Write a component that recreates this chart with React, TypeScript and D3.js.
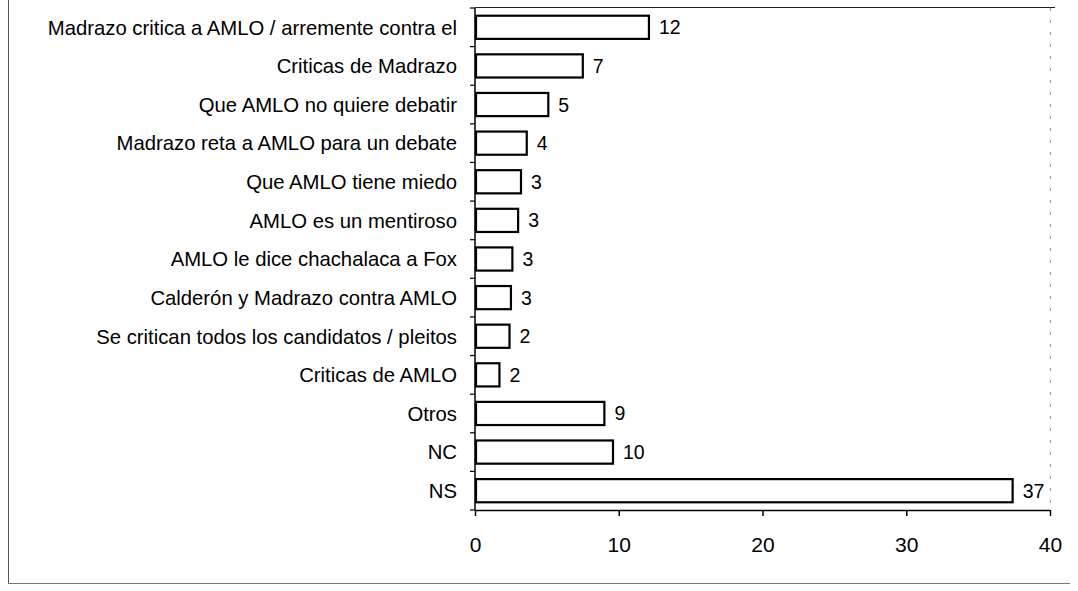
import { useEffect, useRef } from 'react';
import * as d3 from 'd3';

// categories top to bottom
const categories = [
  'Madrazo critica a AMLO / arremente contra el',
  'Criticas de Madrazo',
  'Que AMLO no quiere debatir',
  'Madrazo reta a AMLO para un debate',
  'Que AMLO tiene miedo',
  'AMLO es un mentiroso',
  'AMLO le dice chachalaca a Fox',
  'Calderón y Madrazo contra AMLO',
  'Se critican todos los candidatos / pleitos',
  'Criticas de AMLO',
  'Otros',
  'NC',
  'NS',
];

// bar lengths as drawn (unrounded)
const values = [12.1, 7.5, 5.1, 3.6, 3.2, 3.0, 2.6, 2.5, 2.4, 1.7, 9.0, 9.6, 37.4];

// printed labels
const valueLabels = ['12', '7', '5', '4', '3', '3', '3', '3', '2', '2', '9', '10', '37'];

const xTicks = [0, 10, 20, 30, 40];

const W = 1078;
const H = 591;

const App = () => {
  const svgRef = useRef<SVGSVGElement>(null);

  useEffect(() => {
    if (!svgRef.current) return;
    const svg = d3.select(svgRef.current);
    svg.selectAll('*').remove();

    const font = '"Liberation Sans", Arial, Helvetica, sans-serif';
    const left = 475;
    const right = 1050;
    const top = 8;
    const bottom = 510;

    // outer frame
    svg.append('line')
      .attr('x1', 8.5).attr('y1', 0).attr('x2', 8.5).attr('y2', 583)
      .attr('stroke', '#555').attr('stroke-width', 1);
    svg.append('line')
      .attr('x1', 8).attr('y1', 583.5).attr('x2', 1070).attr('y2', 583.5)
      .attr('stroke', '#777').attr('stroke-width', 1);

    // plot frame
    svg.append('line')
      .attr('x1', left).attr('y1', top - 0.5).attr('x2', right + 5).attr('y2', top - 0.5)
      .attr('stroke', '#222').attr('stroke-width', 1);
    svg.append('line')
      .attr('x1', right + 0.5).attr('y1', top).attr('x2', right + 0.5).attr('y2', bottom)
      .attr('stroke', '#999').attr('stroke-width', 1).attr('stroke-dasharray', '3,9');

    const x = d3.scaleLinear().domain([0, 40]).range([left, right]);
    const y = d3.scaleBand<string>()
      .domain(categories)
      .range([top, bottom])
      .paddingInner(0.4)
      .paddingOuter(0.2);

    // x axis
    const xAxis = svg.append('g')
      .attr('transform', `translate(0,${bottom})`)
      .call(d3.axisBottom(x).tickValues(xTicks).tickSize(6).tickPadding(21).tickSizeOuter(0));
    xAxis.select('.domain').attr('stroke', '#000').attr('stroke-width', 1.5);
    xAxis.selectAll('.tick line').attr('stroke', '#000').attr('stroke-width', 1.5);
    xAxis.selectAll('.tick text')
      .attr('font-family', font)
      .attr('font-size', 21)
      .attr('fill', '#000');

    // y axis line
    svg.append('line')
      .attr('x1', left).attr('y1', top).attr('x2', left).attr('y2', bottom)
      .attr('stroke', '#000').attr('stroke-width', 1.5);

    // y ticks between categories
    const step = y.step();
    const boundaries = d3.range(categories.length + 1).map(i => top + i * step);
    svg.selectAll('.ytick')
      .data(boundaries)
      .join('line')
      .attr('class', 'ytick')
      .attr('x1', left - 5).attr('x2', left)
      .attr('y1', d => d).attr('y2', d => d)
      .attr('stroke', '#000').attr('stroke-width', 1.2);

    // category labels
    svg.selectAll('.cat')
      .data(categories)
      .join('text')
      .attr('class', 'cat')
      .attr('x', left - 18)
      .attr('y', d => (y(d) || 0) + y.bandwidth() / 2)
      .attr('dy', '0.36em')
      .attr('text-anchor', 'end')
      .attr('font-family', font)
      .attr('font-size', 20.3)
      .attr('fill', '#000')
      .text(d => d);

    // bars
    svg.selectAll('.bar')
      .data(values)
      .join('rect')
      .attr('class', 'bar')
      .attr('x', x(0) + 1)
      .attr('y', (_, i) => y(categories[i]) || 0)
      .attr('width', d => x(d) - x(0) - 1)
      .attr('height', y.bandwidth())
      .attr('fill', '#fff')
      .attr('stroke', '#000')
      .attr('stroke-width', 2.2);

    // value labels
    svg.selectAll('.val')
      .data(valueLabels)
      .join('text')
      .attr('class', 'val')
      .attr('x', (_, i) => x(values[i]) + 10)
      .attr('y', (_, i) => (y(categories[i]) || 0) + y.bandwidth() / 2)
      .attr('dy', '0.36em')
      .attr('font-family', font)
      .attr('font-size', 19.5)
      .attr('fill', '#000')
      .text(d => d);
  }, []);

  return (
    <svg
      ref={svgRef}
      width={W}
      height={H}
      style={{ position: 'absolute', left: 0, top: 0, background: '#fff' }}
    />
  );
};

export default App;
